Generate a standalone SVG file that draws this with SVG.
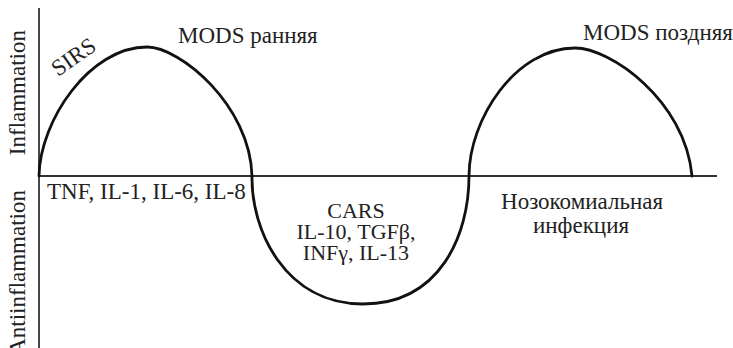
<svg xmlns="http://www.w3.org/2000/svg" width="733" height="348" viewBox="0 0 733 348">
<style>
text{font-family:'Liberation Serif','DejaVu Serif','Times New Roman',serif;font-size:23px;fill:#222}
.m{text-anchor:middle}
.s{font-size:22px}
.ax{stroke:#333;stroke-width:1.8;fill:none}
.cv{stroke:#111;stroke-width:2.8;fill:none;stroke-linecap:round;stroke-linejoin:round}
</style>
<rect width="733" height="348" fill="#fff"/>
<g id="axes">
<line class="ax" x1="39" y1="8" x2="39" y2="348"/>
<line class="ax" x1="39" y1="176" x2="717" y2="176"/>
</g>
<g id="curve">
<path class="cv" d="M39,176 C40,120 90,47 147,47 C180,47 250,105 252,176 C251,230 285,304 363,304 C440,304 469,235 469,176 C469,120 515,48 575,48 C610,48 685,100 692,176"/>
</g>
<g id="labels">
<text transform="translate(25,30) rotate(-90)" text-anchor="end">Inflammation</text>
<text transform="translate(25,190) rotate(-90)" text-anchor="end">Antiinflammation</text>
<text transform="translate(58,77) rotate(-35)">SIRS</text>
<text x="178" y="43">MODS ранняя</text>
<text x="583" y="40">MODS поздняя</text>
<text x="47" y="199">TNF, IL-1, IL-6, IL-8</text>
<text class="m s" x="356" y="218">CARS</text>
<text class="m s" x="356" y="239">IL-10, TGFβ,</text>
<text class="m s" x="356" y="260">INFγ, IL-13</text>
<text class="m" x="582" y="209">Нозокомиальная</text>
<text class="m" x="581" y="233">инфекция</text>
</g>
</svg>
